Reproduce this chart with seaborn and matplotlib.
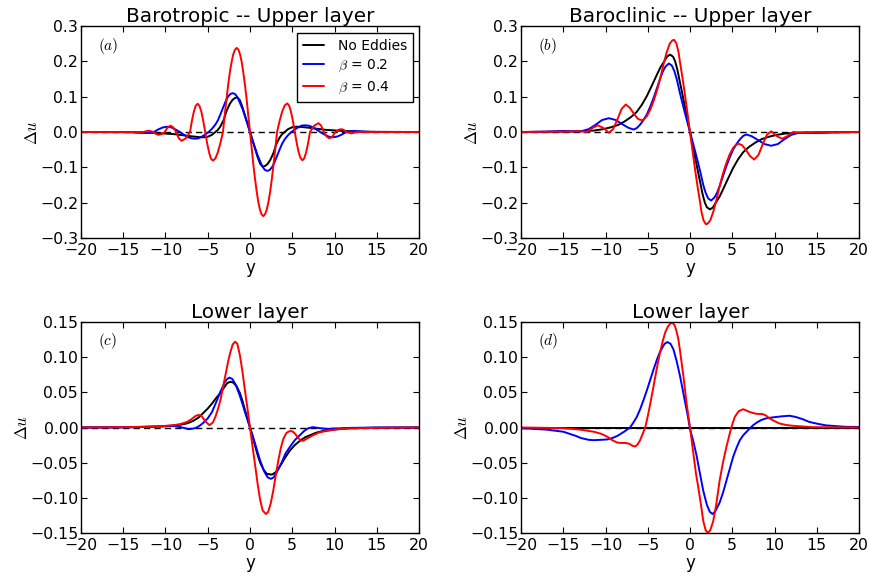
import matplotlib
matplotlib.use("Agg")
import matplotlib.pyplot as plt
import numpy as np
import pandas as pd
import seaborn as sns

# ---------------------------------------------------------------------------
# Zonal-velocity anomaly profiles  Delta u(y)
# ---------------------------------------------------------------------------

# (a) barotropic mode, upper layer
y_a_none = [-20, -15, -13, -11, -9, -8, -7, -6, -5.5, -5, -4.5, -4.1, -3.8, -3.5, -3.1, -2.75,
            -2.4, -2.1, -1.8, -1.5, -1.2, -0.9, -0.6, -0.3, 0, 0.3, 0.6, 0.9, 1.2, 1.5, 1.8,
            2.1, 2.4, 2.75, 3.1, 3.5, 3.8, 4.1, 4.5, 5, 5.5, 6, 7, 8, 9, 11, 13, 15, 20]
du_a_none = [0, -0.0005, -0.001, -0.003, -0.006, -0.009, -0.012, -0.0145, -0.015, -0.0135,
             -0.008, 0.0, 0.006, 0.016, 0.035, 0.061, 0.079, 0.090, 0.096, 0.098, 0.090,
             0.071, 0.047, 0.024, 0, -0.024, -0.047, -0.071, -0.090, -0.098, -0.096,
             -0.090, -0.079, -0.061, -0.035, -0.016, -0.006, 0.0, 0.008, 0.0135, 0.015,
             0.0145, 0.012, 0.009, 0.006, 0.003, 0.001, 0.0005, 0]

y_a_b02 = [-20, -15, -14, -13, -12.3, -11.4, -10.8, -10.3, -9.8, -9.3, -8.8, -8.3, -7.8, -7.3,
           -6.9, -6.5, -6.1, -5.7, -5.3, -4.9, -4.5, -4.1, -3.8, -3.5, -3.2, -2.9, -2.6, -2.3,
           -2.04, -1.75, -1.45, -1.2, -0.9, -0.6, -0.3, 0,
           0.3, 0.6, 0.9, 1.2, 1.45, 1.75, 2.04, 2.3, 2.6, 2.9, 3.2, 3.5, 3.8, 4.1, 4.5, 4.9,
           5.3, 5.7, 6.1, 6.5, 6.9, 7.3, 7.8, 8.3, 8.8, 9.3, 9.8, 10.3, 10.8, 11.4, 12.3, 13,
           14, 15, 20]
du_a_b02 = [0, 0, -0.0005, -0.002, -0.003, 0, 0.008, 0.013, 0.015, 0.013, 0.007, 0, -0.008,
            -0.015, -0.018, -0.019, -0.018, -0.013, -0.007, 0, 0.009, 0.021, 0.033, 0.050,
            0.068, 0.086, 0.100, 0.108, 0.110, 0.107, 0.097, 0.083, 0.066, 0.045, 0.023, 0,
            -0.023, -0.045, -0.066, -0.083, -0.097, -0.107, -0.110, -0.108, -0.100, -0.086,
            -0.068, -0.050, -0.033, -0.021, -0.009, 0, 0.007, 0.013, 0.018, 0.019, 0.018,
            0.015, 0.008, 0, -0.007, -0.013, -0.015, -0.013, -0.008, 0, 0.003, 0.002,
            0.0005, 0, 0]

y_a_b04 = [-20, -13.2, -12.6, -12.0, -11.4, -11.1, -10.8, -10.45, -10.1, -9.75, -9.4, -9.08,
           -8.75, -8.42, -8.1, -7.6, -7.1, -6.88, -6.65, -6.43, -6.2, -5.98, -5.75, -5.53,
           -5.3, -5.08, -4.85, -4.63, -4.4, -4.1, -3.8, -3.5, -3.2, -3.0, -2.79, -2.59,
           -2.39, -2.18, -1.98, -1.77, -1.57, -1.37, -1.18, -0.98, -0.79, -0.59, -0.39,
           -0.2, 0,
           0.2, 0.39, 0.59, 0.79, 0.98, 1.18, 1.37, 1.57, 1.77, 1.98, 2.18, 2.39, 2.59, 2.79,
           3.0, 3.2, 3.5, 3.8, 4.1, 4.4, 4.63, 4.85, 5.08, 5.3, 5.53, 5.75, 5.98, 6.2, 6.43,
           6.65, 6.88, 7.1, 7.6, 8.1, 8.42, 8.75, 9.08, 9.4, 9.75, 10.1, 10.45, 10.8, 11.1,
           11.4, 12.0, 12.6, 13.2, 20]
du_a_b04 = [0, 0, 0, 0.004, 0, -0.006, -0.008, -0.006, 0, 0.013, 0.018, 0.013, 0, -0.018,
            -0.025, -0.018, 0, 0.031, 0.057, 0.074, 0.080, 0.074, 0.057, 0.031, 0, -0.031,
            -0.057, -0.075, -0.081, -0.075, -0.057, -0.031, 0, 0.046, 0.091, 0.132, 0.168,
            0.198, 0.220, 0.233, 0.238, 0.233, 0.220, 0.198, 0.168, 0.132, 0.091, 0.046, 0,
            -0.046, -0.091, -0.132, -0.168, -0.198, -0.220, -0.233, -0.238, -0.233, -0.220,
            -0.198, -0.168, -0.132, -0.091, -0.046, 0, 0.031, 0.057, 0.075, 0.081, 0.075,
            0.057, 0.031, 0, -0.031, -0.057, -0.074, -0.080, -0.074, -0.057, -0.031, 0,
            0.018, 0.025, 0.018, 0, -0.013, -0.018, -0.013, 0, 0.006, 0.008, 0.006, 0,
            -0.004, 0, 0, 0]

# (b) baroclinic mode, upper layer
y_b_none = [-20, -15, -13, -11.4, -10.3, -9.4, -8.5, -7.8, -7, -6.3, -5.7, -5.1, -4.5, -3.9,
            -3.5, -3.1, -2.7, -2.35, -2.0, -1.76, -1.5, -1.2, -0.9, -0.6, -0.3, 0,
            0.3, 0.6, 0.9, 1.2, 1.5, 1.76, 2.0, 2.35, 2.7, 3.1, 3.5, 3.9, 4.5, 5.1, 5.7, 6.3,
            7, 7.8, 8.5, 9.4, 10.3, 11.4, 13, 15, 20]
du_b_none = [0, 0.001, 0.002, 0.004, 0.008, 0.013, 0.020, 0.029, 0.042, 0.057, 0.077, 0.102,
             0.132, 0.163, 0.183, 0.198, 0.214, 0.219, 0.213, 0.200, 0.177, 0.142, 0.107,
             0.071, 0.036, 0,
             -0.036, -0.071, -0.107, -0.142, -0.177, -0.200, -0.213, -0.219, -0.214,
             -0.198, -0.183, -0.163, -0.132, -0.102, -0.077, -0.057, -0.042, -0.029,
             -0.020, -0.013, -0.008, -0.004, -0.002, -0.001, 0]

y_b_b02 = [-20, -17, -15, -14, -12.9, -12, -11.2, -10.4, -9.6, -8.8, -8, -7.3, -6.67, -6.3,
           -5.9, -5.5, -5.1, -4.7, -4.3, -3.9, -3.5, -3.2, -2.9, -2.5, -2.15, -1.85, -1.57,
           -1.2, -0.9, -0.6, -0.3, 0,
           0.3, 0.6, 0.9, 1.2, 1.57, 1.85, 2.15, 2.5, 2.9, 3.2, 3.5, 3.9, 4.3, 4.7, 5.1, 5.5,
           5.9, 6.3, 6.67, 7.3, 8, 8.8, 9.6, 10.4, 11.2, 12, 12.9, 14, 15, 17, 20]
du_b_b02 = [0, 0.001, 0.003, 0.002, 0.002, 0.008, 0.020, 0.034, 0.039, 0.034, 0.022, 0.012,
            0.007, 0.011, 0.021, 0.034, 0.050, 0.072, 0.097, 0.125, 0.154, 0.172, 0.185,
            0.194, 0.188, 0.172, 0.150, 0.111, 0.082, 0.054, 0.027, 0,
            -0.027, -0.054, -0.082, -0.111, -0.150, -0.172, -0.188, -0.194, -0.185, -0.172,
            -0.154, -0.125, -0.097, -0.072, -0.050, -0.034, -0.021, -0.011, -0.007,
            -0.012, -0.022, -0.034, -0.039, -0.034, -0.020, -0.008, -0.002, -0.002,
            -0.003, -0.001, 0]

y_b_b04 = [-20, -15, -13, -12.2, -11.5, -10.9, -10.3, -9.6, -9.1, -8.6, -8.1, -7.6, -7.1,
           -6.6, -6.15, -5.7, -5.4, -5.1, -4.7, -4.3, -3.9, -3.5, -3.1, -2.75, -2.4, -2.1,
           -1.88, -1.6, -1.35, -1.2, -0.9, -0.6, -0.3, 0,
           0.3, 0.6, 0.9, 1.2, 1.35, 1.6, 1.88, 2.1, 2.4, 2.75, 3.1, 3.5, 3.9, 4.3, 4.7, 5.1,
           5.4, 5.7, 6.15, 6.6, 7.1, 7.6, 8.1, 8.6, 9.1, 9.6, 10.3, 10.9, 11.5, 12.2, 13,
           15, 20]
du_b_b04 = [0, 0.001, 0.002, 0.0, 0.012, 0.019, 0.012, -0.002, 0.008, 0.035, 0.065, 0.078,
            0.068, 0.050, 0.037, 0.033, 0.037, 0.045, 0.063, 0.088, 0.118, 0.154, 0.195,
            0.226, 0.250, 0.259, 0.261, 0.250, 0.225, 0.200, 0.155, 0.106, 0.053, 0,
            -0.053, -0.106, -0.155, -0.200, -0.225, -0.250, -0.261, -0.259, -0.250,
            -0.226, -0.195, -0.154, -0.118, -0.088, -0.063, -0.045, -0.037, -0.033,
            -0.037, -0.050, -0.068, -0.078, -0.065, -0.035, -0.008, 0.002, -0.012,
            -0.019, -0.012, 0.0, -0.002, -0.001, 0]

# (c) barotropic mode, lower layer
y_c_none = [-20, -15, -12, -10.6, -9.4, -8.2, -7.4, -6.7, -6.1, -5.5, -5.0, -4.5, -4.0, -3.5,
            -3.0, -2.7, -2.35, -2.0, -1.6, -1.2, -0.9, -0.6, -0.3, 0,
            0.3, 0.6, 0.9, 1.2, 1.6, 2.0, 2.6, 3.0, 3.5, 4.1, 4.7, 5.3, 5.9, 6.5, 7.1, 7.8,
            8.6, 10.6, 12, 15, 20]
du_c_none = [0, 0.0003, 0.001, 0.0015, 0.0025, 0.004, 0.006, 0.0096, 0.014, 0.021, 0.027,
             0.034, 0.042, 0.049, 0.058, 0.063, 0.065, 0.064, 0.059, 0.049, 0.038, 0.025,
             0.013, 0,
             -0.013, -0.026, -0.039, -0.050, -0.060, -0.066, -0.067, -0.064, -0.056,
             -0.044, -0.033, -0.025, -0.019, -0.014, -0.011, -0.0075, -0.005, -0.002,
             -0.001, -0.0003, 0]

y_c_b02 = [-20, -14, -11, -9, -8.2, -7.25, -6.7, -6.3, -5.9, -5.5, -5.0, -4.5, -4.0, -3.5,
           -3.0, -2.7, -2.43, -2.1, -1.7, -1.2, -0.9, -0.6, -0.3, 0,
           0.3, 0.6, 0.9, 1.2, 1.7, 2.1, 2.47, 2.8, 3.2, 3.7, 4.2, 4.7, 5.3, 5.9, 6.4, 6.9,
           7.45, 8.0, 9, 10, 12, 15, 20]
du_c_b02 = [0, 0.0003, 0.0015, 0.002, 0.0005, -0.0024, -0.0015, 0.0, 0.003, 0.007, 0.013,
            0.022, 0.036, 0.051, 0.064, 0.069, 0.071, 0.069, 0.061, 0.045, 0.034, 0.022,
            0.011, 0,
            -0.011, -0.023, -0.035, -0.047, -0.063, -0.071, -0.073, -0.071, -0.063,
            -0.051, -0.037, -0.028, -0.018, -0.011, -0.005, -0.001, 0.0005, -0.0005,
            -0.002, -0.0015, -0.0005, 0, 0]

y_c_b04 = [-20, -15, -13, -11, -9, -8.2, -7.45, -6.9, -6.5, -6.1, -5.7, -5.3, -4.8, -4.4,
           -4.1, -3.8, -3.5, -3.2, -2.9, -2.6, -2.35, -2.05, -1.76, -1.5, -1.2, -0.9, -0.6,
           -0.3, 0,
           0.3, 0.6, 0.9, 1.2, 1.5, 1.88, 2.15, 2.45, 2.75, 3.05, 3.35, 3.65, 3.95, 4.3, 4.6,
           4.9, 5.2, 5.6, 5.95, 6.27, 6.7, 7.45, 8.2, 9, 10, 11.4, 13, 15, 20]
du_c_b04 = [0, 0.0005, 0.001, 0.0014, 0.0033, 0.005, 0.008, 0.012, 0.016, 0.018, 0.016,
            0.009, 0.0033, 0.007, 0.015, 0.026, 0.039, 0.057, 0.075, 0.093, 0.106, 0.118,
            0.122, 0.119, 0.103, 0.080, 0.053, 0.027, 0,
            -0.027, -0.053, -0.080, -0.103, -0.118, -0.123, -0.120, -0.108, -0.090,
            -0.068, -0.047, -0.029, -0.016, -0.008, -0.0055, -0.005, -0.007, -0.013,
            -0.018, -0.019, -0.016, -0.011, -0.007, -0.005, -0.003, -0.0015, -0.001,
            -0.0005, 0]

# (d) baroclinic mode, lower layer
y_d_none = [-20, 20]
du_d_none = [0, 0]

y_d_b02 = [-20, -17, -15, -13.5, -12.9, -12, -11.4, -10.5, -9.8, -9.2, -8.6, -7.8, -7.1,
           -6.7, -6.3, -5.9, -5.5, -5.1, -4.7, -4.3, -3.9, -3.6, -3.3, -3.0, -2.67, -2.3,
           -1.96, -1.57, -1.18, -0.9, -0.6, -0.3, 0,
           0.4, 0.78, 1.17, 1.57, 2.0, 2.35, 2.67, 3.0, 3.5, 3.9, 4.3, 4.7, 5.1, 5.5, 5.9,
           6.3, 6.7, 7.1, 7.45, 7.9, 8.4, 9.0, 9.8, 10.8, 11.8, 12.5, 13.3, 14.1, 15, 16.1,
           18.4, 20]
du_d_b02 = [-0.001, -0.003, -0.006, -0.012, -0.015, -0.0175, -0.018, -0.0175, -0.017,
            -0.015, -0.012, -0.006, 0, 0.007, 0.015, 0.026, 0.039, 0.053, 0.068, 0.083,
            0.097, 0.106, 0.113, 0.119, 0.1215, 0.119, 0.111, 0.094, 0.073, 0.056, 0.037,
            0.019, -0.002,
            -0.020, -0.040, -0.065, -0.090, -0.110, -0.120, -0.123, -0.119, -0.107,
            -0.093, -0.076, -0.059, -0.042, -0.029, -0.018, -0.011, -0.006, -0.001,
            0.003, 0.007, 0.0105, 0.013, 0.0144, 0.0158, 0.0167, 0.015, 0.012, 0.008,
            0.0055, 0.003, 0.001, 0.0008]

y_d_b04 = [-20, -17, -15, -13, -11.4, -10.5, -9.8, -9.2, -8.6, -8.1, -7.65, -7.2, -6.8,
           -6.47, -6.2, -5.9, -5.6, -5.3, -5.0, -4.7, -4.4, -4.1, -3.8, -3.5, -3.2, -2.94,
           -2.6, -2.3, -2.08, -1.8, -1.6, -1.37, -1.1, -0.78, -0.4, 0,
           0.4, 0.7, 0.98, 1.3, 1.57, 1.85, 2.12, 2.4, 2.75, 3.1, 3.5, 3.9, 4.3, 4.8, 5.05,
           5.3, 5.75, 6.27, 6.7, 7.06, 7.8, 8.6, 9.0, 9.4, 10.0, 10.6, 11.4, 12.2, 14.5, 20]
du_d_b04 = [0.0, -0.0005, -0.001, -0.003, -0.006, -0.009, -0.013, -0.018, -0.0215, -0.022,
            -0.022, -0.023, -0.026, -0.027, -0.024, -0.018, -0.009, 0.0, 0.016, 0.034,
            0.053, 0.073, 0.092, 0.109, 0.124, 0.135, 0.144, 0.148, 0.149, 0.145, 0.137,
            0.125, 0.102, 0.073, 0.034, 0,
            -0.037, -0.065, -0.085, -0.110, -0.133, -0.146, -0.150, -0.146, -0.133,
            -0.110, -0.076, -0.050, -0.028, -0.004, 0.006, 0.015, 0.023, 0.026, 0.024,
            0.022, 0.0196, 0.019, 0.017, 0.013, 0.009, 0.0057, 0.0035, 0.0024, 0.0005, 0]

series_labels = ["No Eddies", r"$\beta$ = 0.2", r"$\beta$ = 0.4"]
series_colors = ["#000000", "#0000ff", "#ff0000"]

panels = [
    ("Barotropic -- Upper layer", "$(a)$", 0.3, 0.1,
     [(y_a_none, du_a_none), (y_a_b02, du_a_b02), (y_a_b04, du_a_b04)]),
    ("Baroclinic -- Upper layer", "$(b)$", 0.3, 0.1,
     [(y_b_none, du_b_none), (y_b_b02, du_b_b02), (y_b_b04, du_b_b04)]),
    ("Lower layer", "$(c)$", 0.15, 0.05,
     [(y_c_none, du_c_none), (y_c_b02, du_c_b02), (y_c_b04, du_c_b04)]),
    ("Lower layer", "$(d)$", 0.15, 0.05,
     [(y_d_none, du_d_none), (y_d_b02, du_d_b02), (y_d_b04, du_d_b04)]),
]

# ---------------------------------------------------------------------------
sns.set_theme(style="ticks")
plt.rcParams.update({
    "font.family": ["DejaVu Sans"],
    "mathtext.fontset": "cm",
    "xtick.direction": "in",
    "ytick.direction": "in",
    "xtick.top": True,
    "ytick.right": True,
    "xtick.major.size": 4,
    "ytick.major.size": 4,
    "xtick.major.width": 0.8,
    "ytick.major.width": 0.8,
    "xtick.major.pad": 3.5,
    "ytick.major.pad": 2.0,
    "xtick.labelsize": 11.3,
    "ytick.labelsize": 11.3,
    "axes.edgecolor": "black",
    "axes.linewidth": 1.0,
    "xtick.color": "black",
    "ytick.color": "black",
    "axes.labelcolor": "black",
    "text.color": "black",
})


def signed(fmt):
    return matplotlib.ticker.FuncFormatter(
        lambda v, p: format(v, fmt).replace("-", "\u2212"))


fig = plt.figure(figsize=(8.69, 5.76), dpi=100)
W, H = 869.0, 576.0
rects = [(81, 26, 419, 238), (521, 26, 859, 238),
         (81, 322, 419, 533), (521, 322, 859, 533)]

for i, ((title, tag, lim, step, curves), (x0, y0, x1, y1)) in enumerate(zip(panels, rects)):
    ax = fig.add_axes([x0 / W, 1 - y1 / H, (x1 - x0) / W, (y1 - y0) / H])
    ax.axhline(0, color="black", lw=1.0, ls=(0, (4.5, 3.0)), zorder=1)
    for (yy, du), lab, col in zip(curves, series_labels, series_colors):
        df = pd.DataFrame({"y": yy, "du": du})
        sns.lineplot(data=df, x="y", y="du", ax=ax, color=col, lw=1.4,
                     label=lab if i == 0 else None, estimator=None,
                     errorbar=None, zorder=2)
    ax.set_xlim(-20, 20)
    ax.set_ylim(-lim, lim)
    ax.set_xticks(np.arange(-20, 21, 5))
    ax.set_yticks(np.round(np.arange(-lim, lim + step / 2, step), 3))
    ax.xaxis.set_major_formatter(signed(".0f"))
    ax.yaxis.set_major_formatter(signed(".2f" if lim < 0.2 else ".1f"))
    ax.set_title(title, fontsize=14.4, pad=3)
    ax.set_xlabel("y", fontsize=12, labelpad=1)
    ax.set_ylabel(r"$\Delta u$", fontsize=12, labelpad=-1)
    ax.text(0.05, 0.955, tag, transform=ax.transAxes, fontsize=11, va="top", ha="left")
    if i == 0:
        ax.legend(loc="upper right", bbox_to_anchor=(0.982, 0.967), borderaxespad=0,
                  fontsize=10, frameon=True, fancybox=False, framealpha=1,
                  edgecolor="black", handlelength=1.5, handletextpad=1.05,
                  labelspacing=0.4, borderpad=0.4)
    else:
        if ax.get_legend() is not None:
            ax.get_legend().remove()

fig.savefig("out.png", dpi=100)
